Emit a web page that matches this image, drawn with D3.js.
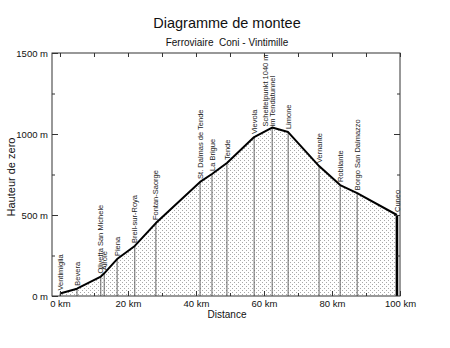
<!DOCTYPE html>
<html>
<head>
<meta charset="utf-8">
<script src="https://cdn.jsdelivr.net/npm/d3@7"></script>
<style>
  html, body { margin: 0; padding: 0; background: #fff; }
  svg { display: block; font-family: "Liberation Sans", Arial, sans-serif; }
</style>
</head>
<body>
<svg id="chart" width="450" height="348"></svg>
<script>
// Stations along the Cuneo – Ventimiglia line (distance from Ventimiglia, km) and altitude (m)
const stations = ["Ventimiglia", "Bevera", "Olivetta San Michele", "Airole", "Piena", "Breil-sur-Roya",
  "Fontan-Saorge", "St. Dalmas de Tende", "La Brigue", "Tende", "Vievola",
  "Scheitelpunkt 1040 m|im Tendatunnel", "Limone", "Vernante", "Robilante", "Borgo San Dalmazzo", "Cuneo"];
const distanceKm = [0, 5, 12, 13, 16.8, 22, 28.2, 41.2, 44.7, 49.1, 57.1, 62.4, 67.1, 76.2, 82.4, 87.4, 99.1];
const altitudeM = [15, 45, 120, 140, 228, 309, 450, 704, 753, 821, 981, 1040, 1012, 802, 685, 635, 500];

const xTicks = [0, 20, 40, 60, 80, 100];
const xMinor = [10, 30, 50, 70, 90];
const yTicks = [0, 500, 1000, 1500];
const yMinor = [250, 750, 1250];

const svg = d3.select("#chart");
const plotLeft = 52, plotRight = 400, plotTop = 53, plotBottom = 296;

const x = d3.scaleLinear().domain([-2.35, 100]).range([plotLeft, plotRight]);
const y = d3.scaleLinear().domain([0, 1500]).range([plotBottom, plotTop]);

const pts = stations.map((s, i) => ({ name: s, km: distanceKm[i], alt: altitudeM[i] }));

// stipple fill
const defs = svg.append("defs");
const pat = defs.append("pattern").attr("id", "stipple")
  .attr("patternUnits", "userSpaceOnUse").attr("width", 4).attr("height", 4);
pat.append("rect").attr("x", 0).attr("y", 0).attr("width", 1).attr("height", 1).attr("fill", "#a8a8a8");
pat.append("rect").attr("x", 2).attr("y", 2).attr("width", 1).attr("height", 1).attr("fill", "#a8a8a8");

// titles
svg.append("text").attr("x", 227).attr("y", 28).attr("text-anchor", "middle")
  .attr("font-size", 14.5).attr("fill", "#111").text("Diagramme de montee");
svg.append("text").attr("x", 227).attr("y", 46).attr("text-anchor", "middle")
  .attr("font-size", 10).attr("fill", "#111").style("white-space", "pre")
  .text("Ferroviaire  Coni - Vintimille");

// area under the profile
const area = d3.area().x(d => x(d.km)).y0(y(0)).y1(d => y(d.alt));
svg.append("path").datum(pts).attr("d", area).attr("fill", "url(#stipple)");

// station drop lines
svg.append("g").selectAll("line").data(pts.slice(0, -1)).join("line")
  .attr("x1", d => x(d.km)).attr("x2", d => x(d.km))
  .attr("y1", d => y(d.alt)).attr("y2", y(0))
  .attr("stroke", "#555").attr("stroke-width", 0.9);
const last = pts[pts.length - 1];
svg.append("line")
  .attr("x1", x(last.km)).attr("x2", x(last.km))
  .attr("y1", y(last.alt)).attr("y2", y(0))
  .attr("stroke", "#000").attr("stroke-width", 2.6);

// profile
const line = d3.line().x(d => x(d.km)).y(d => y(d.alt));
svg.append("path").datum(pts).attr("d", line)
  .attr("fill", "none").attr("stroke", "#000").attr("stroke-width", 2).attr("stroke-linejoin", "round");

// frame
svg.append("rect").attr("x", plotLeft).attr("y", plotTop)
  .attr("width", plotRight - plotLeft).attr("height", plotBottom - plotTop)
  .attr("fill", "none").attr("stroke", "#333").attr("stroke-width", 1);

// axes
function styleAxis(g, fs) {
  g.select(".domain").remove();
  g.selectAll(".tick line").attr("stroke", "#333");
  g.selectAll(".tick text").attr("font-size", fs).attr("fill", "#111")
    .attr("font-family", "Liberation Sans, Arial, sans-serif");
}
svg.append("g").attr("transform", `translate(0,${plotBottom})`)
  .call(d3.axisBottom(x).tickValues(xTicks).tickSizeInner(-5).tickSizeOuter(0).tickPadding(4).tickFormat(d => d + " km"))
  .call(g => styleAxis(g, 9.5));
svg.append("g").attr("transform", `translate(0,${plotBottom})`)
  .call(d3.axisBottom(x).tickValues(xMinor).tickSizeInner(-3).tickSizeOuter(0).tickFormat(""))
  .call(g => styleAxis(g, 9.5));
svg.append("g").attr("transform", `translate(0,${plotTop})`)
  .call(d3.axisTop(x).tickValues(xTicks.concat(xMinor)).tickSizeInner(-4).tickSizeOuter(0).tickFormat(""))
  .call(g => styleAxis(g, 9.5));
svg.append("g").attr("transform", `translate(${plotLeft},0)`)
  .call(d3.axisLeft(y).tickValues(yTicks).tickSizeInner(-6).tickSizeOuter(0).tickPadding(4).tickFormat(d => d + " m"))
  .call(g => styleAxis(g, 9.5));
svg.append("g").attr("transform", `translate(${plotLeft},0)`)
  .call(d3.axisLeft(y).tickValues(yMinor).tickSizeInner(-3).tickSizeOuter(0).tickFormat(""))
  .call(g => styleAxis(g, 9.5));
svg.append("g").attr("transform", `translate(${plotRight},0)`)
  .call(d3.axisRight(y).tickValues(yTicks.slice(1, -1)).tickSizeInner(-6).tickSizeOuter(0).tickFormat(""))
  .call(g => styleAxis(g, 9.5));
svg.append("g").attr("transform", `translate(${plotRight},0)`)
  .call(d3.axisRight(y).tickValues(yMinor).tickSizeInner(-3).tickSizeOuter(0).tickFormat(""))
  .call(g => styleAxis(g, 9.5));

// axis titles
svg.append("text").attr("x", 227).attr("y", 318).attr("text-anchor", "middle")
  .attr("font-size", 10).attr("fill", "#111").text("Distance");
svg.append("text").attr("transform", "translate(15,177) rotate(-90)").attr("text-anchor", "middle")
  .attr("font-size", 11).attr("fill", "#111").text("Hauteur de zero");

// station names, rotated above each point
const labels = svg.append("g").attr("font-size", 7.5).attr("fill", "#222");
pts.forEach(p => {
  const parts = p.name.split("|");
  const t = labels.append("text")
    .attr("transform", `translate(${x(p.km)},${y(p.alt) - (parts.length > 1 ? 1 : 3)}) rotate(-90)`);
  if (parts.length === 1) {
    t.attr("dy", "0.35em").text(p.name);
  } else {
    parts.forEach((s, i) => {
      t.append("tspan").attr("x", 0).attr("y", i === 0 ? -4.5 : 2.5).text(s);
    });
  }
});
</script>
</body>
</html>
